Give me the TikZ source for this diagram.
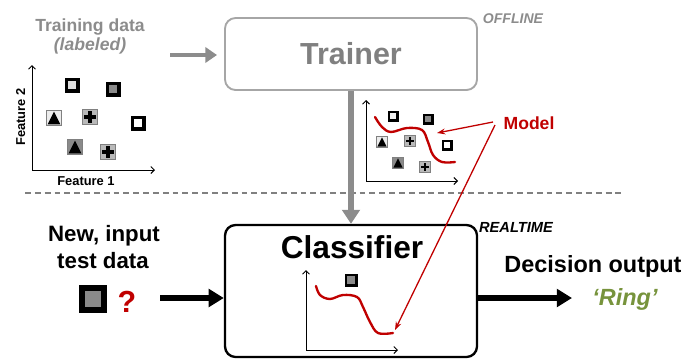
\documentclass[tikz,border=0pt]{standalone}
\usepackage{fontspec}
\setmainfont{Liberation Sans}
\usetikzlibrary{arrows.meta}
\definecolor{txtgray}{HTML}{8C8C8C}
\definecolor{boxgray}{HTML}{A6A6A6}
\definecolor{mred}{HTML}{C00000}
\definecolor{mgreen}{HTML}{77933C}
\definecolor{symgray}{HTML}{8A8A8A}
\tikzset{
  pics/sqsym/.style={code={\fill[black] (-0.5,-0.5) rectangle (0.5,0.5); \fill[#1] (-0.27,-0.27) rectangle (0.27,0.27);}},
  pics/trisym/.style={code={\filldraw[fill=#1,draw=gray,line width=0.3pt] (-0.5,-0.5) rectangle (0.5,0.5); \fill[black] (0,-0.42) -- (0.42,0.42) -- (-0.42,0.42) -- cycle;}},
  pics/plussym/.style={code={\filldraw[fill=gray!55,draw=gray,line width=0.3pt] (-0.5,-0.5) rectangle (0.5,0.5); \fill[black] (-0.38,-0.13) rectangle (0.38,0.13); \fill[black] (-0.13,-0.38) rectangle (0.13,0.38);}},
  txt/.style={inner sep=0pt, anchor=base, font=\fontsize{#1}{#1}\selectfont\bfseries},
  itxt/.style={inner sep=0pt, anchor=base, font=\fontsize{#1}{#1}\selectfont\bfseries\itshape},
  axis2/.style={line width=0.8pt, {Straight Barb[length=3pt,width=6pt]}-{Straight Barb[length=3pt,width=6pt]}},
  grayarrow/.style={draw=txtgray, line width=4pt, -{Triangle[width=13pt,length=10pt]}},
  blackarrow/.style={draw=black, line width=4.5pt, -{Triangle[width=15pt,length=13pt]}},
  redcurve/.style={draw=mred, line width=2pt, line cap=round},
  redline/.style={draw=mred, line width=1.1pt, -{Stealth[length=7pt,width=5pt]}},
}
\begin{document}
\begin{tikzpicture}[x=0.03cm,y=-0.03cm]
\useasboundingbox (0,0) rectangle (700,358);

% ---- top: training ----
\node[txt=15, text=txtgray] (train1) at (90,31) {Training data};
\node[itxt=15, text=txtgray] (train2) at (90,50) {(labeled)};

\node[draw=boxgray, line width=1.6pt, rounded corners=9pt, minimum width=7.56cm, minimum height=2.16cm,
      text=gray, font=\fontsize{26}{26}\selectfont\bfseries, inner sep=0pt] (trainer) at (351,54) {Trainer};
\node[itxt=12, text=txtgray] (offline) at (513,23) {OFFLINE};

\coordinate (tastart) at (170,55);
\draw[grayarrow, shorten >=6pt] (tastart) -- (trainer.west |- tastart);

% left scatter plot
\coordinate (lTop) at (32,65);
\coordinate (lO) at (32,170);
\coordinate (lR) at (155,170);
\draw[axis2] (lTop) -- (lO) -- (lR);
\node[txt=11] (feat1) at (86,185) {Feature 1};
\node[txt=11, rotate=90] (feat2) at (25,117) {Feature 2};
\pic[scale=15] at (72,85) {sqsym=gray!25};
\pic[scale=15] at (113,89) {sqsym=symgray};
\pic[scale=15] at (54,118) {trisym=gray!15};
\pic[scale=15] at (90,117) {plussym};
\pic[scale=15] at (138,123) {sqsym=white};
\pic[scale=15] at (75,147) {trisym=symgray};
\pic[scale=15] at (108,152) {plussym};

% right (model) plot
\coordinate (rTop) at (366,100);
\coordinate (rO) at (366,181);
\coordinate (rR) at (458,181);
\draw[axis2] (rTop) -- (rO) -- (rR);
\pic[scale=11] at (393,116) {sqsym=gray!10};
\pic[scale=11] at (428,119) {sqsym=symgray};
\pic[scale=11] at (382,142) {trisym=gray!15};
\pic[scale=11] at (410,141) {plussym};
\pic[scale=11] at (447,145) {sqsym=white};
\pic[scale=11] at (398,163) {trisym=symgray};
\pic[scale=11] at (425,167) {plussym};
\draw[redcurve] plot[smooth, tension=0.6] coordinates {(375,117) (382,127) (391,132) (407,128) (422,130) (428,142) (433,155) (442,162) (455,162)};

\node[txt=15, text=mred] (model) at (529,129) {Model};
\coordinate (mfrom) at (493,122);
\coordinate (mto1) at (437,133);
\coordinate (mfrom2) at (495,125);
\coordinate (mto2) at (395,330);

% dashed separator
\coordinate (dashL) at (25,193);
\coordinate (dashR) at (625,193);
\draw[draw=gray, line width=1.2pt, dash pattern=on 5pt off 3.4pt] (dashL) -- (dashR);

% ---- bottom: classifier ----
\node[draw=black, line width=2pt, rounded corners=9pt, minimum width=7.56cm, minimum height=3.96cm, inner sep=0pt] (classifier) at (351,291) {};
\node[txt=27] (classtxt) at (352,258) {Classifier};
\node[itxt=12.5] (realtime) at (516,232) {REALTIME};

\draw[grayarrow, line width=5pt, -{Triangle[width=15pt,length=12pt]}] (trainer.south) -- (classifier.north);

% classifier plot
\coordinate (cTop) at (306,270);
\coordinate (cO) at (306,350);
\coordinate (cR) at (398,350);
\draw[axis2] (cTop) -- (cO) -- (cR);
\pic[scale=13] at (351,280) {sqsym=symgray};
\draw[redcurve] plot[smooth, tension=0.6] coordinates {(316,286) (320,295) (330,299) (343,295) (357,297) (363,307) (370,322) (378,333) (393,333)};

% red model arrows
\draw[redline] (mfrom) -- (mto1);
\draw[redline] (mfrom2) -- (mto2);

% input
\node[txt=19] (new1) at (104,241) {New, input};
\node[txt=19] (new2) at (103,268) {test data};
\pic[scale=28] at (93,299) {sqsym=symgray};
\node[txt=26, text=mred] (qmark) at (127,312) {?};
\coordinate (instart) at (160,298);
\draw[blackarrow] (instart) -- (classifier.west |- instart);

% output
\coordinate (outend) at (572,298);
\draw[blackarrow] (classifier.east |- outend) -- (outend);
\node[txt=20] (decision) at (593,272) {Decision output};
\node[itxt=20, text=mgreen] (ring) at (625,305) {‘Ring’};
\end{tikzpicture}
\end{document}
